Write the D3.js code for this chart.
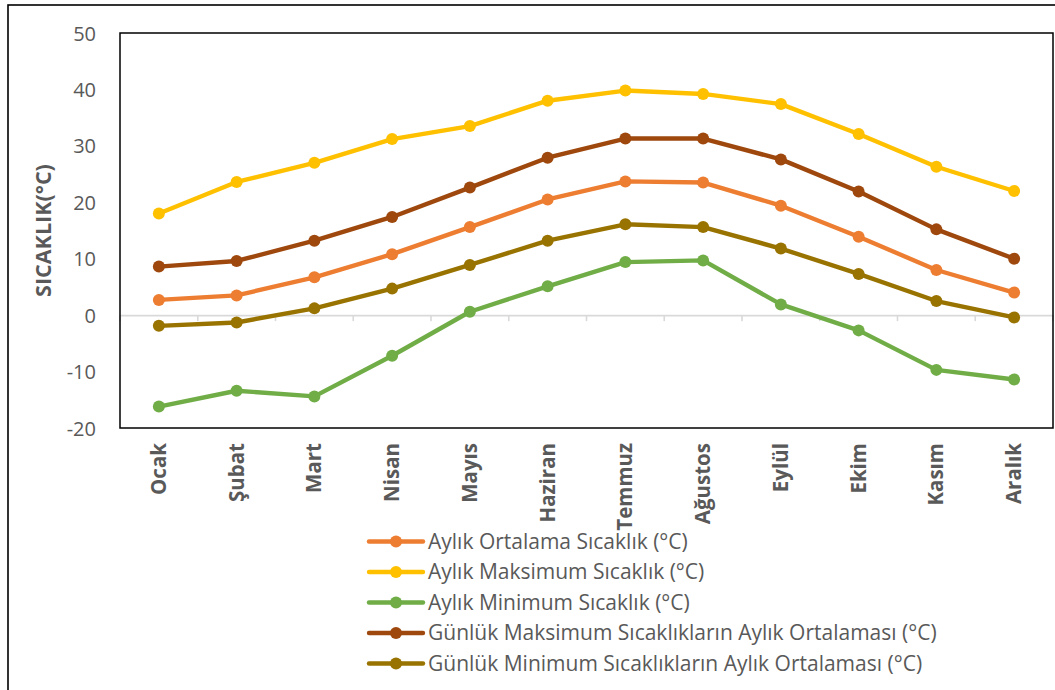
<!DOCTYPE html>
<html>
<head>
<meta charset="utf-8">
<script src="https://cdn.jsdelivr.net/npm/d3@7"></script>
<style>
  html, body { margin: 0; padding: 0; background: #fff; }
  svg { display: block; }
</style>
</head>
<body>
<svg id="chart" width="1055" height="690"></svg>
<script>
// Monthly temperature data (°C)
const months = ["Ocak", "Şubat", "Mart", "Nisan", "Mayıs", "Haziran", "Temmuz", "Ağustos", "Eylül", "Ekim", "Kasım", "Aralık"];

const aylikOrtalama = [2.7, 3.5, 6.7, 10.8, 15.6, 20.5, 23.7, 23.5, 19.4, 13.9, 8.0, 4.0];
const aylikMaksimum = [18.0, 23.6, 27.0, 31.2, 33.5, 38.0, 39.8, 39.2, 37.4, 32.1, 26.3, 22.0];
const aylikMinimum = [-16.2, -13.4, -14.4, -7.2, 0.6, 5.1, 9.4, 9.7, 1.9, -2.7, -9.7, -11.4];
const gunlukMaksOrt = [8.6, 9.6, 13.2, 17.4, 22.6, 27.9, 31.3, 31.3, 27.6, 21.9, 15.2, 10.0];
const gunlukMinOrt = [-1.9, -1.3, 1.2, 4.7, 8.9, 13.2, 16.1, 15.6, 11.8, 7.3, 2.5, -0.4];

const seriesNames = [
  "Aylık Ortalama Sıcaklık (°C)",
  "Aylık Maksimum Sıcaklık (°C)",
  "Aylık Minimum Sıcaklık (°C)",
  "Günlük Maksimum Sıcaklıkların Aylık Ortalaması (°C)",
  "Günlük Minimum Sıcaklıkların Aylık Ortalaması (°C)"
];
const seriesValues = [aylikOrtalama, aylikMaksimum, aylikMinimum, gunlukMaksOrt, gunlukMinOrt];
const seriesColors = ["#ED7D31", "#FFC000", "#70AD47", "#9E480E", "#997300"];

const yTicks = [-20, -10, 0, 10, 20, 30, 40, 50];

const svg = d3.select("#chart");
const font = "'Open Sans', 'DejaVu Sans', sans-serif";
const textGray = "#595959";

// Plot area
const plot = { left: 120, top: 33, right: 1053, bottom: 428 };

const x = d3.scaleBand().domain(months).range([plot.left, plot.right]).padding(0);
const y = d3.scaleLinear().domain([-20, 50]).range([plot.bottom, plot.top]);

// Outer chart border
svg.append("rect")
  .attr("x", 8).attr("y", 5)
  .attr("width", 1100).attr("height", 700)
  .attr("fill", "none").attr("stroke", "#000").attr("stroke-width", 1.6);

// Category axis along zero
const xAxis = d3.axisBottom(x).tickSize(0).tickFormat("");
const xAxisG = svg.append("g")
  .attr("transform", `translate(0,${y(0)})`)
  .call(xAxis);
xAxisG.select(".domain").attr("stroke", "#d9d9d9").attr("stroke-width", 1.6);
// boundary tick marks between categories
const boundaries = months.map((m) => x(m)).concat([plot.right]);
xAxisG.selectAll("line.bnd")
  .data(boundaries)
  .enter().append("line")
  .attr("class", "bnd")
  .attr("x1", d => d).attr("x2", d => d)
  .attr("y1", 0).attr("y2", 6)
  .attr("stroke", "#d9d9d9").attr("stroke-width", 1.6);

// Plot area border
svg.append("rect")
  .attr("x", plot.left).attr("y", plot.top)
  .attr("width", plot.right - plot.left).attr("height", plot.bottom - plot.top)
  .attr("fill", "none").attr("stroke", "#000").attr("stroke-width", 1.5);

// Y axis labels (hyphen as minus sign)
const yAxis = d3.axisLeft(y).tickValues(yTicks).tickSize(0).tickPadding(0)
  .tickFormat(d => String(d));
const yAxisG = svg.append("g")
  .attr("transform", `translate(${plot.left - 24},0)`)
  .call(yAxis);
yAxisG.select(".domain").remove();
yAxisG.selectAll("text")
  .attr("font-family", font).attr("font-size", 20).attr("fill", textGray)
  .attr("dy", "0.35em");

// Y axis title
svg.append("text")
  .attr("transform", `translate(51,${(y(20) + y(10)) / 2}) rotate(-90)`)
  .attr("text-anchor", "middle")
  .attr("font-family", font).attr("font-size", 21.5).attr("font-weight", "bold")
  .attr("fill", textGray)
  .text("SICAKLIK(°C)");

// Month labels (rotated)
svg.append("g").selectAll("text")
  .data(months)
  .enter().append("text")
  .attr("transform", d => `translate(${x(d) + x.bandwidth() / 2 + 7},443) rotate(-90)`)
  .attr("text-anchor", "end")
  .attr("font-family", font).attr("font-size", 20.5).attr("font-weight", "bold")
  .attr("fill", textGray)
  .text(d => d);

// Series lines and markers
const line = d3.line()
  .x((d, i) => x(months[i]) + x.bandwidth() / 2)
  .y(d => y(d));

seriesValues.forEach((vals, si) => {
  const g = svg.append("g");
  g.append("path")
    .datum(vals)
    .attr("d", line)
    .attr("fill", "none")
    .attr("stroke", seriesColors[si])
    .attr("stroke-width", 4.4)
    .attr("stroke-linejoin", "round");
  g.selectAll("circle")
    .data(vals)
    .enter().append("circle")
    .attr("cx", (d, i) => x(months[i]) + x.bandwidth() / 2)
    .attr("cy", d => y(d))
    .attr("r", 6)
    .attr("fill", seriesColors[si]);
});

// Legend
const legendTop = 541.5;
const legendStep = 30.5;
const legend = svg.append("g");
seriesNames.forEach((name, i) => {
  const ly = legendTop + i * legendStep;
  legend.append("line")
    .attr("x1", 369).attr("x2", 423)
    .attr("y1", ly).attr("y2", ly)
    .attr("stroke", seriesColors[i]).attr("stroke-width", 4.4)
    .attr("stroke-linecap", "round");
  legend.append("circle")
    .attr("cx", 396).attr("cy", ly).attr("r", 6)
    .attr("fill", seriesColors[i]);
  legend.append("text")
    .attr("x", 428).attr("y", ly)
    .attr("dy", "0.35em")
    .attr("font-family", font).attr("font-size", 21)
    .attr("fill", textGray)
    .text(name);
});
</script>
</body>
</html>
